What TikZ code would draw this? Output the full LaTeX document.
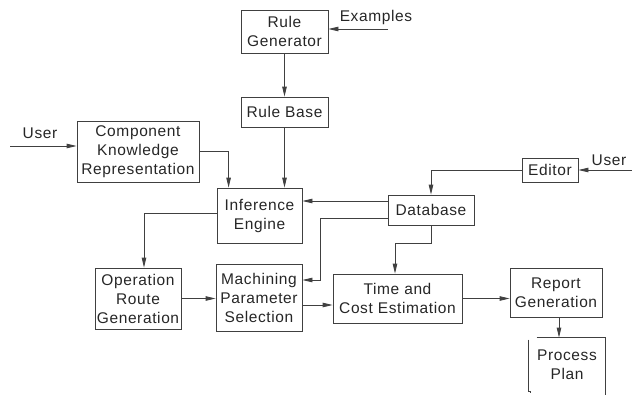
\documentclass[tikz,border=0pt]{standalone}
\usepackage{fontspec}
\setmainfont{Liberation Sans}[LetterSpace=4]
\usepackage{tikz}
\usetikzlibrary{arrows.meta, positioning, calc}
\tikzset{
  flowbox/.style={
    draw=black!75, line width=0.8pt, align=center, inner sep=1pt,
    font=\fontsize{15.5}{19}\selectfont, text=black!85
  },
  flowarrow/.style={
    -{Triangle[length=10pt,width=4.5pt]}, line width=0.8pt, color=black!75
  },
  flowlabel/.style={
    font=\fontsize{15.5}{19}\selectfont, text=black!85, inner sep=0pt
  },
}

\begin{document}
\begin{tikzpicture}[x=1pt, y=-1pt]
  \useasboundingbox (0,0) rectangle (632,394);

  % ── Knowledge side ──
  \node[flowbox, minimum width=87pt, minimum height=43pt]
    (rulegen) at (284.5,31.5) {Rule\\Generator};
  \node[flowbox, minimum width=87pt, minimum height=30pt]
    (rulebase) at (284.5,112) {Rule Base};
  \node[flowbox, minimum width=122pt, minimum height=61pt]
    (ckr) at (138,151.5) {Component\\Knowledge\\Representation};
  \node[flowbox, minimum width=85pt, minimum height=55pt]
    (infer) at (259.5,215.5) {Inference\\Engine};

  % ── Data side ──
  \node[flowbox, minimum width=56pt, minimum height=24pt]
    (editor) at (550,170) {Editor};
  \node[flowbox, minimum width=86pt, minimum height=30pt]
    (database) at (431,210) {Database};

  % ── Planning steps ──
  \node[flowbox, minimum width=86pt, minimum height=61pt]
    (route) at (138,298.5) {Operation\\Route\\Generation};
  \node[flowbox, minimum width=86pt, minimum height=67pt]
    (machining) at (259,297.5) {Machining\\Parameter\\Selection};
  \node[flowbox, minimum width=129pt, minimum height=49pt]
    (estimate) at (397.5,298.5) {Time and\\Cost Estimation};
  \node[flowbox, minimum width=92pt, minimum height=49pt]
    (report) at (556,292.5) {Report\\Generation};
  \node[flowbox, draw=none, minimum width=76pt, minimum height=54pt]
    (plan) at (567,365) {Process\\Plan};
  \draw[line width=0.8pt, black!75]
    ([xshift=8pt]plan.north west) -- (plan.north east) -- ++(0,60);
  \draw[line width=0.8pt, black!75]
    ([yshift=-2pt]plan.north west) -- ([yshift=1pt]plan.south west)
    -- ++(2,0) -- ++(0,2);

  % ── Inputs ──
  \coordinate (exsrc) at (388,29);
  \node[flowlabel] (examples) at (376,17) {Examples};
  \coordinate (usersrc) at (10,146);
  \node[flowlabel] (userleft) at (40,133) {User};
  \coordinate (editsrc) at (632,170);
  \node[flowlabel] (userright) at (609,160) {User};

  % ── Arrows ──
  \draw[flowarrow] (exsrc) -- (exsrc -| rulegen.east);
  \draw[flowarrow] (rulegen) -- (rulebase);
  \draw[flowarrow] (usersrc) -- (usersrc -| ckr.west);
  \draw[flowarrow] (ckr.east) -| ([xshift=12pt]infer.north west);
  \draw[flowarrow] (rulebase.south) -- (rulebase.south |- infer.north);
  \draw[flowarrow] (editsrc) -- (editor.east);
  \draw[flowarrow] (editor.west) -| (database.north);
  \draw[flowarrow] ([yshift=9pt]database.west)
    -- ([yshift=9pt]database.west -| infer.east);
  \draw[flowarrow] ([yshift=-8pt]database.west) -- ++(-67,0)
    |- ([yshift=17.5pt]machining.east);
  \draw[flowarrow] (database.south) -- ++(0,18)
    -| ([xshift=-2.5pt]estimate.north);
  \draw[flowarrow] ([yshift=2.5pt]infer.west) -| ([xshift=6pt]route.north);
  \draw[flowarrow] (route.east) -- (route.east -| machining.west);
  \draw[flowarrow] ([yshift=-7.5pt]machining.east)
    -- ([yshift=-7.5pt]machining.east -| estimate.west);
  \draw[flowarrow] (estimate.east) -- (estimate.east -| report.west);
  \draw[flowarrow] ([xshift=3pt]report.south)
    -- ([xshift=3pt]report.south |- plan.north);
\end{tikzpicture}
\end{document}
